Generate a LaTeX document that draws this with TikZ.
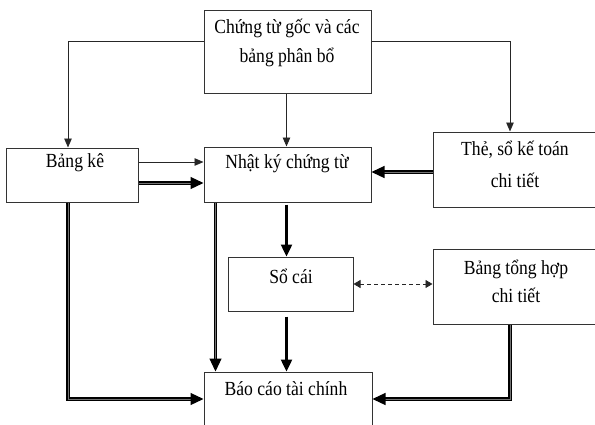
\documentclass[tikz,border=0pt]{standalone}
\usepackage{fontspec}
\setmainfont{Liberation Serif}[FakeStretch=0.88]
\usetikzlibrary{arrows.meta,calc}
\begin{document}
\begin{tikzpicture}[x=1pt,y=-1pt,
  box/.style={draw=black!80,line width=1pt,fill=white,rectangle,inner sep=0pt},
  txt/.style={font=\fontsize{20}{22}\selectfont,anchor=base,inner sep=0pt},
  thin arrow/.style={draw=black!85,line width=0.9pt,-{Triangle[length=9pt,width=7.5pt]}},
  thick arrow/.style={draw=black,line width=2.4pt,-{Triangle[length=12pt,width=11pt]}},
  dbl arrow/.style={draw=black,line width=1.2pt,double=black!55,double distance=1pt,
    -{Triangle[length=13pt,width=12pt,fill=black]}},
  dash arrow/.style={draw=black!85,line width=0.9pt,dash pattern=on 4pt off 3pt,
    {Triangle[length=7pt,width=8pt]}-{Triangle[length=7pt,width=8pt]}}
]
\useasboundingbox (0,0) rectangle (595,424);
\begin{scope}
\clip (0,0) rectangle (595,424);
% boxes
\node[box,minimum width=167pt,minimum height=83pt] (top) at (287.5,51.5) {};
\node[box,minimum width=132pt,minimum height=54pt] (bk) at (72,175) {};
\node[box,minimum width=167pt,minimum height=55pt] (nk) at (287.5,174.5) {};
\node[box,minimum width=165pt,minimum height=75pt] (the) at (515.5,169.5) {};
\node[box,minimum width=125pt,minimum height=54pt] (sc) at (290.5,284) {};
\node[box,minimum width=165pt,minimum height=75pt] (bth) at (515.5,286.5) {};
\node[box,minimum width=168pt,minimum height=68pt] (bc) at (288,406) {};
% texts
\node[txt] (t1) at (287,33) {Chứng từ gốc và các};
\node[txt] (t2) at (287,62) {bảng phân bổ};
\node[txt] (t3) at (75,167) {Bảng kê};
\node[txt] (t4) at (287,168) {Nhật ký chứng từ};
\node[txt] (t5) at (515,155) {Thẻ, sổ kế toán};
\node[txt] (t6) at (515,187) {chi tiết};
\node[txt] (t7) at (291,283) {Sổ cái};
\node[txt] (t8) at (516,274) {Bảng tổng hợp};
\node[txt] (t9) at (516,302) {chi tiết};
\node[txt] (t10) at (286,395) {Báo cáo tài chính};
% connectors
\draw[thin arrow] ([yshift=-32pt]top.north west) -| ([xshift=-4pt]bk.north);
\draw[thin arrow] ([yshift=-32pt]top.north east) -| ([xshift=-5.5pt]the.north);
\draw[thin arrow] ([xshift=-1pt]top.south) -- ([xshift=-1pt]nk.north);
\draw[thin arrow] ([yshift=13pt]bk.east) -- ([yshift=12.5pt]nk.west);
\draw[dbl arrow] ([yshift=-8pt]bk.east) -- ([yshift=-8.5pt]nk.west);
\draw[dbl arrow] ([yshift=-2.5pt]the.west) -- ([yshift=2.5pt]nk.east);
\draw[thick arrow] ([xshift=-1pt,yshift=-2pt]nk.south) -- ([xshift=-4pt]sc.north);
\draw[thick arrow] ([xshift=-4pt,yshift=-5pt]sc.south) -- ([xshift=-1.5pt]bc.north);
\draw[dbl arrow] ([xshift=-72pt]nk.south) -- ([xshift=-72.5pt]bc.north);
\draw[dbl arrow] ([xshift=-4pt]bk.south) |- ([yshift=7pt]bc.west);
\draw[dbl arrow] ([xshift=-5.5pt]bth.south) |- ([yshift=7pt]bc.east);
\draw[dash arrow] (sc.east) -- (sc.east -| bth.west);
\end{scope}
\end{tikzpicture}
\end{document}
